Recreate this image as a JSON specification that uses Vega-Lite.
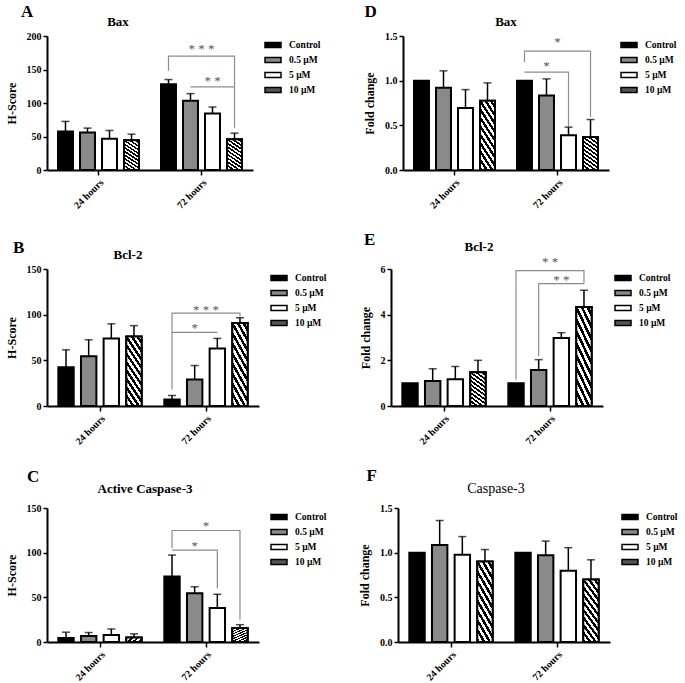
{
  "$schema": "https://vega.github.io/schema/vega-lite/v6.json",
  "background": "white",
  "padding": {"left": 5, "top": 3, "right": 0, "bottom": 0},
  "config": {
    "font": "Liberation Serif",
    "view": {"stroke": null},
    "axis": {
      "grid": false,
      "labelFont": "Liberation Serif", "labelFontWeight": "bold", "labelFontSize": 10, "labelColor": "black",
      "titleFont": "Liberation Serif", "titleFontWeight": "bold", "titleFontSize": 12, "titleColor": "black",
      "domainColor": "black", "domainWidth": 2, "tickColor": "black", "tickWidth": 1.5, "tickSize": 4, "labelPadding": 2
    },
    "axisX": {"labelAngle": -45, "labelFontSize": 10, "tickSize": 5},
    "axisY": {"titlePadding": 8},
    "legend": {
      "title": null, "orient": "right", "offset": 11, "padding": 0,
      "labelFont": "Liberation Serif", "labelFontWeight": "bold", "labelFontSize": 9.5, "labelColor": "black",
      "symbolType": "M-1,-0.32H1V0.32H-1Z", "symbolSize": 256, "symbolStrokeColor": "black", "symbolStrokeWidth": 1.5,
      "rowPadding": -1, "labelOffset": 7
    },
    "title": {"font": "Liberation Serif", "fontWeight": "bold", "fontSize": 13, "color": "black", "anchor": "middle", "frame": "group", "offset": 2}
  },
  "datasets": {
    "bars": [
      {"panel": "A", "time": "24 hours", "treatment": "Control", "mean": 57.5, "upper": 72.5},
      {"panel": "A", "time": "24 hours", "treatment": "0.5 µM", "mean": 56, "upper": 62.5},
      {"panel": "A", "time": "24 hours", "treatment": "5 µM", "mean": 46.5, "upper": 59},
      {"panel": "A", "time": "24 hours", "treatment": "10 µM", "mean": 44.5, "upper": 53.5},
      {"panel": "A", "time": "72 hours", "treatment": "Control", "mean": 128, "upper": 135},
      {"panel": "A", "time": "72 hours", "treatment": "0.5 µM", "mean": 103.5, "upper": 114},
      {"panel": "A", "time": "72 hours", "treatment": "5 µM", "mean": 84.5, "upper": 94},
      {"panel": "A", "time": "72 hours", "treatment": "10 µM", "mean": 46, "upper": 55},
      {"panel": "D", "time": "24 hours", "treatment": "Control", "mean": 1.0, "upper": null},
      {"panel": "D", "time": "24 hours", "treatment": "0.5 µM", "mean": 0.92, "upper": 1.11},
      {"panel": "D", "time": "24 hours", "treatment": "5 µM", "mean": 0.695, "upper": 0.9},
      {"panel": "D", "time": "24 hours", "treatment": "10 µM", "mean": 0.775, "upper": 0.975},
      {"panel": "D", "time": "72 hours", "treatment": "Control", "mean": 1.0, "upper": null},
      {"panel": "D", "time": "72 hours", "treatment": "0.5 µM", "mean": 0.835, "upper": 1.02},
      {"panel": "D", "time": "72 hours", "treatment": "5 µM", "mean": 0.39, "upper": 0.48},
      {"panel": "D", "time": "72 hours", "treatment": "10 µM", "mean": 0.37, "upper": 0.565},
      {"panel": "B", "time": "24 hours", "treatment": "Control", "mean": 42.5, "upper": 61.5},
      {"panel": "B", "time": "24 hours", "treatment": "0.5 µM", "mean": 54.5, "upper": 72.5},
      {"panel": "B", "time": "24 hours", "treatment": "5 µM", "mean": 74, "upper": 90},
      {"panel": "B", "time": "24 hours", "treatment": "10 µM", "mean": 76, "upper": 88},
      {"panel": "B", "time": "72 hours", "treatment": "Control", "mean": 7, "upper": 11.5},
      {"panel": "B", "time": "72 hours", "treatment": "0.5 µM", "mean": 29, "upper": 44.3},
      {"panel": "B", "time": "72 hours", "treatment": "5 µM", "mean": 63, "upper": 74},
      {"panel": "B", "time": "72 hours", "treatment": "10 µM", "mean": 90.8, "upper": 96.6},
      {"panel": "E", "time": "24 hours", "treatment": "Control", "mean": 1.0, "upper": null},
      {"panel": "E", "time": "24 hours", "treatment": "0.5 µM", "mean": 1.1, "upper": 1.63},
      {"panel": "E", "time": "24 hours", "treatment": "5 µM", "mean": 1.17, "upper": 1.73},
      {"panel": "E", "time": "24 hours", "treatment": "10 µM", "mean": 1.48, "upper": 2.0},
      {"panel": "E", "time": "72 hours", "treatment": "Control", "mean": 1.0, "upper": null},
      {"panel": "E", "time": "72 hours", "treatment": "0.5 µM", "mean": 1.58, "upper": 2.03},
      {"panel": "E", "time": "72 hours", "treatment": "5 µM", "mean": 2.98, "upper": 3.21},
      {"panel": "E", "time": "72 hours", "treatment": "10 µM", "mean": 4.34, "upper": 5.07},
      {"panel": "C", "time": "24 hours", "treatment": "Control", "mean": 4.4, "upper": 11},
      {"panel": "C", "time": "24 hours", "treatment": "0.5 µM", "mean": 6.6, "upper": 10.6},
      {"panel": "C", "time": "24 hours", "treatment": "5 µM", "mean": 7.7, "upper": 14.6},
      {"panel": "C", "time": "24 hours", "treatment": "10 µM", "mean": 5.1, "upper": 9.1},
      {"panel": "C", "time": "72 hours", "treatment": "Control", "mean": 73.2, "upper": 97.3},
      {"panel": "C", "time": "72 hours", "treatment": "0.5 µM", "mean": 54.5, "upper": 61.8},
      {"panel": "C", "time": "72 hours", "treatment": "5 µM", "mean": 38, "upper": 53.4},
      {"panel": "C", "time": "72 hours", "treatment": "10 µM", "mean": 15.7, "upper": 19.4},
      {"panel": "F", "time": "24 hours", "treatment": "Control", "mean": 1.0, "upper": null},
      {"panel": "F", "time": "24 hours", "treatment": "0.5 µM", "mean": 1.085, "upper": 1.36},
      {"panel": "F", "time": "24 hours", "treatment": "5 µM", "mean": 0.976, "upper": 1.18},
      {"panel": "F", "time": "24 hours", "treatment": "10 µM", "mean": 0.9, "upper": 1.035},
      {"panel": "F", "time": "72 hours", "treatment": "Control", "mean": 1.0, "upper": null},
      {"panel": "F", "time": "72 hours", "treatment": "0.5 µM", "mean": 0.972, "upper": 1.13},
      {"panel": "F", "time": "72 hours", "treatment": "5 µM", "mean": 0.797, "upper": 1.056},
      {"panel": "F", "time": "72 hours", "treatment": "10 µM", "mean": 0.7, "upper": 0.92}
    ],
    "brackets": [
      {"panel": "A", "bracket": 1, "ord": 1, "time": "72 hours", "treatment": "Control", "value": 148},
      {"panel": "A", "bracket": 1, "ord": 2, "time": "72 hours", "treatment": "Control", "value": 170},
      {"panel": "A", "bracket": 1, "ord": 3, "time": "72 hours", "treatment": "10 µM", "value": 170},
      {"panel": "A", "bracket": 1, "ord": 4, "time": "72 hours", "treatment": "10 µM", "value": 63},
      {"panel": "A", "bracket": 2, "ord": 1, "time": "72 hours", "treatment": "0.5 µM", "value": 124},
      {"panel": "A", "bracket": 2, "ord": 2, "time": "72 hours", "treatment": "10 µM", "value": 124},
      {"panel": "D", "bracket": 1, "ord": 1, "time": "72 hours", "treatment": "Control", "value": 1.205},
      {"panel": "D", "bracket": 1, "ord": 2, "time": "72 hours", "treatment": "Control", "value": 1.33},
      {"panel": "D", "bracket": 1, "ord": 3, "time": "72 hours", "treatment": "10 µM", "value": 1.33},
      {"panel": "D", "bracket": 1, "ord": 4, "time": "72 hours", "treatment": "10 µM", "value": 0.593},
      {"panel": "D", "bracket": 2, "ord": 1, "time": "72 hours", "treatment": "Control", "value": 1.096},
      {"panel": "D", "bracket": 2, "ord": 2, "time": "72 hours", "treatment": "5 µM", "value": 1.096},
      {"panel": "D", "bracket": 2, "ord": 3, "time": "72 hours", "treatment": "5 µM", "value": 0.487},
      {"panel": "B", "bracket": 1, "ord": 1, "time": "72 hours", "treatment": "Control", "value": 18},
      {"panel": "B", "bracket": 1, "ord": 2, "time": "72 hours", "treatment": "Control", "value": 101.7},
      {"panel": "B", "bracket": 1, "ord": 3, "time": "72 hours", "treatment": "10 µM", "value": 101.7},
      {"panel": "B", "bracket": 1, "ord": 4, "time": "72 hours", "treatment": "10 µM", "value": 98},
      {"panel": "B", "bracket": 2, "ord": 1, "time": "72 hours", "treatment": "Control", "value": 80.6},
      {"panel": "B", "bracket": 2, "ord": 2, "time": "72 hours", "treatment": "5 µM", "value": 80.6},
      {"panel": "E", "bracket": 1, "ord": 1, "time": "72 hours", "treatment": "Control", "value": 1.15},
      {"panel": "E", "bracket": 1, "ord": 2, "time": "72 hours", "treatment": "Control", "value": 5.93},
      {"panel": "E", "bracket": 1, "ord": 3, "time": "72 hours", "treatment": "10 µM", "value": 5.93},
      {"panel": "E", "bracket": 1, "ord": 4, "time": "72 hours", "treatment": "10 µM", "value": 5.36},
      {"panel": "E", "bracket": 2, "ord": 1, "time": "72 hours", "treatment": "0.5 µM", "value": 2.18},
      {"panel": "E", "bracket": 2, "ord": 2, "time": "72 hours", "treatment": "0.5 µM", "value": 5.36},
      {"panel": "E", "bracket": 2, "ord": 3, "time": "72 hours", "treatment": "10 µM", "value": 5.36},
      {"panel": "C", "bracket": 1, "ord": 1, "time": "72 hours", "treatment": "Control", "value": 105},
      {"panel": "C", "bracket": 1, "ord": 2, "time": "72 hours", "treatment": "Control", "value": 124.8},
      {"panel": "C", "bracket": 1, "ord": 3, "time": "72 hours", "treatment": "10 µM", "value": 124.8},
      {"panel": "C", "bracket": 1, "ord": 4, "time": "72 hours", "treatment": "10 µM", "value": 25},
      {"panel": "C", "bracket": 2, "ord": 1, "time": "72 hours", "treatment": "Control", "value": 102.9},
      {"panel": "C", "bracket": 2, "ord": 2, "time": "72 hours", "treatment": "5 µM", "value": 102.9},
      {"panel": "C", "bracket": 2, "ord": 3, "time": "72 hours", "treatment": "5 µM", "value": 60}
    ],
    "stars": [
      {"panel": "A", "time": "72 hours", "at": "center", "label": "* * *", "value": 180},
      {"panel": "A", "time": "72 hours", "at": "5 µM", "label": "* *", "value": 133},
      {"panel": "D", "time": "72 hours", "at": "center", "label": "*", "value": 1.43},
      {"panel": "D", "time": "72 hours", "at": "0.5 µM", "label": "*", "value": 1.16},
      {"panel": "B", "time": "72 hours", "at": "center", "label": "* * *", "value": 105},
      {"panel": "B", "time": "72 hours", "at": "0.5 µM", "label": "*", "value": 85.5},
      {"panel": "E", "time": "72 hours", "at": "center", "label": "* *", "value": 6.3},
      {"panel": "E", "time": "72 hours", "at": "5 µM", "label": "* *", "value": 5.5},
      {"panel": "C", "time": "72 hours", "at": "center", "label": "*", "value": 130},
      {"panel": "C", "time": "72 hours", "at": "0.5 µM", "label": "*", "value": 108}
    ]
  },
  "vconcat": [
    {
      "hconcat": [
        {
          "title": {"text": "A", "fontSize": 17, "anchor": "start", "frame": "bounds", "dx": 16, "offset": -5},
          "resolve": {"scale": {"fill": "independent", "xOffset": "independent"}, "legend": {"fill": "independent"}},
          "vconcat": [
            {
              "title": {"text": "Bax", "dx": -32},
              "width": 206, "height": 134,
              "layer": [
                {"data": {"name": "bars"}, "transform": [{"filter": "datum.panel === 'A'"}],
                 "mark": {"type": "bar", "stroke": "black", "strokeWidth": 2},
                 "encoding": {
                   "x": {"field": "time", "type": "nominal", "title": null, "scale": {"domain": ["24 hours", "72 hours"], "paddingInner": 0, "paddingOuter": 0}},
                   "xOffset": {"field": "treatment", "type": "nominal", "scale": {"domain": ["Control", "0.5 µM", "5 µM", "10 µM"], "paddingInner": 0.32, "paddingOuter": 0.5}},
                   "y": {"field": "mean", "type": "quantitative", "title": "H-Score", "scale": {"domain": [0, 200], "nice": false}, "axis": {"values": [0, 50, 100, 150, 200]}},
                   "fill": {"field": "treatment", "type": "nominal", "scale": {"domain": ["Control", "0.5 µM", "5 µM", "10 µM"], "range": ["black", "#8a8a8a", "white", "#555555"]},
                     "legend": {"encode": {"symbols": {"update": {"stroke": {"value": "black"}, "strokeWidth": {"value": 1.5}, "fill": [
                       {"test": "datum.value === '10 µM'", "value": {"gradient": "linear", "x1": 0, "y1": 0, "x2": 1, "y2": 0, "stops": [{"offset": 0, "color": "black"}, {"offset": 0.14, "color": "black"}, {"offset": 0.14, "color": "white"}, {"offset": 0.28, "color": "white"}, {"offset": 0.28, "color": "black"}, {"offset": 0.42, "color": "black"}, {"offset": 0.42, "color": "white"}, {"offset": 0.58, "color": "white"}, {"offset": 0.58, "color": "black"}, {"offset": 0.72, "color": "black"}, {"offset": 0.72, "color": "white"}, {"offset": 0.86, "color": "white"}, {"offset": 0.86, "color": "black"}, {"offset": 1, "color": "black"}]}},
                       {"test": "datum.value === 'Control'", "value": "black"},
                       {"test": "datum.value === '0.5 µM'", "value": "#8a8a8a"},
                       {"value": "white"}]}}}}}
                 }},
                {"data": {"name": "bars"}, "transform": [{"filter": "datum.panel === 'A' && datum.treatment === '10 µM'"}],
                 "mark": {"type": "bar", "stroke": "black", "strokeWidth": 2, "fill": {"gradient": "linear", "x1": 0, "y1": 1, "x2": 0.4, "y2": -0.2, "stops": [{"offset": 0, "color": "black"}, {"offset": 0.0455, "color": "black"}, {"offset": 0.0455, "color": "white"}, {"offset": 0.0909, "color": "white"}, {"offset": 0.0909, "color": "black"}, {"offset": 0.1364, "color": "black"}, {"offset": 0.1364, "color": "white"}, {"offset": 0.1818, "color": "white"}, {"offset": 0.1818, "color": "black"}, {"offset": 0.2273, "color": "black"}, {"offset": 0.2273, "color": "white"}, {"offset": 0.2727, "color": "white"}, {"offset": 0.2727, "color": "black"}, {"offset": 0.3182, "color": "black"}, {"offset": 0.3182, "color": "white"}, {"offset": 0.3636, "color": "white"}, {"offset": 0.3636, "color": "black"}, {"offset": 0.4091, "color": "black"}, {"offset": 0.4091, "color": "white"}, {"offset": 0.4545, "color": "white"}, {"offset": 0.4545, "color": "black"}, {"offset": 0.5, "color": "black"}, {"offset": 0.5, "color": "white"}, {"offset": 0.5455, "color": "white"}, {"offset": 0.5455, "color": "black"}, {"offset": 0.5909, "color": "black"}, {"offset": 0.5909, "color": "white"}, {"offset": 0.6364, "color": "white"}, {"offset": 0.6364, "color": "black"}, {"offset": 0.6818, "color": "black"}, {"offset": 0.6818, "color": "white"}, {"offset": 0.7273, "color": "white"}, {"offset": 0.7273, "color": "black"}, {"offset": 0.7727, "color": "black"}, {"offset": 0.7727, "color": "white"}, {"offset": 0.8182, "color": "white"}, {"offset": 0.8182, "color": "black"}, {"offset": 0.8636, "color": "black"}, {"offset": 0.8636, "color": "white"}, {"offset": 0.9091, "color": "white"}, {"offset": 0.9091, "color": "black"}, {"offset": 0.9545, "color": "black"}, {"offset": 0.9545, "color": "white"}, {"offset": 1, "color": "white"}]}},
                 "encoding": {
                   "x": {"field": "time", "type": "nominal", "title": null},
                   "xOffset": {"field": "treatment", "type": "nominal"},
                   "y": {"field": "mean", "type": "quantitative", "title": "H-Score", "axis": {"values": [0, 50, 100, 150, 200]}}
                 }},
                {"data": {"name": "bars"}, "transform": [{"filter": "datum.panel === 'A' && datum.upper != null"}],
                 "mark": {"type": "rule", "color": "black", "strokeWidth": 1.5},
                 "encoding": {
                   "x": {"field": "time", "type": "nominal", "title": null},
                   "xOffset": {"field": "treatment", "type": "nominal"},
                   "y": {"field": "mean", "type": "quantitative", "title": "H-Score", "axis": {"values": [0, 50, 100, 150, 200]}},
                   "y2": {"field": "upper"}
                 }},
                {"data": {"name": "bars"}, "transform": [{"filter": "datum.panel === 'A' && datum.upper != null"}],
                 "mark": {"type": "tick", "color": "black", "thickness": 1.5, "size": 8},
                 "encoding": {
                   "x": {"field": "time", "type": "nominal", "title": null},
                   "xOffset": {"field": "treatment", "type": "nominal"},
                   "y": {"field": "upper", "type": "quantitative", "title": "H-Score", "axis": {"values": [0, 50, 100, 150, 200]}}
                 }},
                {"data": {"name": "brackets"}, "transform": [{"filter": "datum.panel === 'A'"}],
                 "mark": {"type": "line", "color": "#8c8c8c", "strokeWidth": 1.2},
                 "encoding": {
                   "x": {"field": "time", "type": "nominal", "title": null},
                   "xOffset": {"field": "treatment", "type": "nominal"},
                   "y": {"field": "value", "type": "quantitative", "title": "H-Score", "axis": {"values": [0, 50, 100, 150, 200]}},
                   "detail": {"field": "bracket"},
                   "order": {"field": "ord"}
                 }},
                {"data": {"name": "stars"}, "transform": [{"filter": "datum.panel === 'A' && datum.at !== 'center'"}],
                 "mark": {"type": "text", "fill": "#555", "fontSize": 13, "baseline": "middle"},
                 "encoding": {
                   "x": {"field": "time", "type": "nominal", "title": null},
                   "xOffset": {"field": "at", "type": "nominal"},
                   "y": {"field": "value", "type": "quantitative", "title": "H-Score", "axis": {"values": [0, 50, 100, 150, 200]}},
                   "text": {"field": "label"}
                 }},
                {"data": {"name": "stars"}, "transform": [{"filter": "datum.panel === 'A' && datum.at === 'center'"}],
                 "mark": {"type": "text", "fill": "#555", "fontSize": 13, "baseline": "middle"},
                 "encoding": {
                   "x": {"field": "time", "type": "nominal", "title": null},
                   "y": {"field": "value", "type": "quantitative", "title": "H-Score", "axis": {"values": [0, 50, 100, 150, 200]}},
                   "text": {"field": "label"}
                 }}
              ]
            }
          ]
        },
        {
          "title": {"text": "D", "fontSize": 17, "anchor": "start", "frame": "bounds", "dx": 1, "offset": -5},
          "resolve": {"scale": {"fill": "independent", "xOffset": "independent"}, "legend": {"fill": "independent"}},
          "vconcat": [
            {
              "title": {"text": "Bax", "dx": 0},
              "width": 206, "height": 134,
              "layer": [
                {"data": {"name": "bars"}, "transform": [{"filter": "datum.panel === 'D'"}],
                 "mark": {"type": "bar", "stroke": "black", "strokeWidth": 2},
                 "encoding": {
                   "x": {"field": "time", "type": "nominal", "title": null, "scale": {"domain": ["24 hours", "72 hours"], "paddingInner": 0, "paddingOuter": 0}},
                   "xOffset": {"field": "treatment", "type": "nominal", "scale": {"domain": ["Control", "0.5 µM", "5 µM", "10 µM"], "paddingInner": 0.32, "paddingOuter": 0.5}},
                   "y": {"field": "mean", "type": "quantitative", "title": "Fold change", "scale": {"domain": [0, 1.5], "nice": false}, "axis": {"values": [0, 0.5, 1, 1.5], "format": ".1f"}},
                   "fill": {"field": "treatment", "type": "nominal", "scale": {"domain": ["Control", "0.5 µM", "5 µM", "10 µM"], "range": ["black", "#8a8a8a", "white", "#555555"]},
                     "legend": {"encode": {"symbols": {"update": {"stroke": {"value": "black"}, "strokeWidth": {"value": 1.5}, "fill": [
                       {"test": "datum.value === '10 µM'", "value": {"gradient": "linear", "x1": 0, "y1": 0, "x2": 1, "y2": 0, "stops": [{"offset": 0, "color": "black"}, {"offset": 0.14, "color": "black"}, {"offset": 0.14, "color": "white"}, {"offset": 0.28, "color": "white"}, {"offset": 0.28, "color": "black"}, {"offset": 0.42, "color": "black"}, {"offset": 0.42, "color": "white"}, {"offset": 0.58, "color": "white"}, {"offset": 0.58, "color": "black"}, {"offset": 0.72, "color": "black"}, {"offset": 0.72, "color": "white"}, {"offset": 0.86, "color": "white"}, {"offset": 0.86, "color": "black"}, {"offset": 1, "color": "black"}]}},
                       {"test": "datum.value === 'Control'", "value": "black"},
                       {"test": "datum.value === '0.5 µM'", "value": "#8a8a8a"},
                       {"value": "white"}]}}}}}
                 }},
                {"data": {"name": "bars"}, "transform": [{"filter": "datum.panel === 'D' && datum.treatment === '10 µM'"}],
                 "mark": {"type": "bar", "stroke": "black", "strokeWidth": 2, "fill": {"gradient": "linear", "x1": 0, "y1": 1, "x2": 0.4, "y2": -0.2, "stops": [{"offset": 0, "color": "black"}, {"offset": 0.0455, "color": "black"}, {"offset": 0.0455, "color": "white"}, {"offset": 0.0909, "color": "white"}, {"offset": 0.0909, "color": "black"}, {"offset": 0.1364, "color": "black"}, {"offset": 0.1364, "color": "white"}, {"offset": 0.1818, "color": "white"}, {"offset": 0.1818, "color": "black"}, {"offset": 0.2273, "color": "black"}, {"offset": 0.2273, "color": "white"}, {"offset": 0.2727, "color": "white"}, {"offset": 0.2727, "color": "black"}, {"offset": 0.3182, "color": "black"}, {"offset": 0.3182, "color": "white"}, {"offset": 0.3636, "color": "white"}, {"offset": 0.3636, "color": "black"}, {"offset": 0.4091, "color": "black"}, {"offset": 0.4091, "color": "white"}, {"offset": 0.4545, "color": "white"}, {"offset": 0.4545, "color": "black"}, {"offset": 0.5, "color": "black"}, {"offset": 0.5, "color": "white"}, {"offset": 0.5455, "color": "white"}, {"offset": 0.5455, "color": "black"}, {"offset": 0.5909, "color": "black"}, {"offset": 0.5909, "color": "white"}, {"offset": 0.6364, "color": "white"}, {"offset": 0.6364, "color": "black"}, {"offset": 0.6818, "color": "black"}, {"offset": 0.6818, "color": "white"}, {"offset": 0.7273, "color": "white"}, {"offset": 0.7273, "color": "black"}, {"offset": 0.7727, "color": "black"}, {"offset": 0.7727, "color": "white"}, {"offset": 0.8182, "color": "white"}, {"offset": 0.8182, "color": "black"}, {"offset": 0.8636, "color": "black"}, {"offset": 0.8636, "color": "white"}, {"offset": 0.9091, "color": "white"}, {"offset": 0.9091, "color": "black"}, {"offset": 0.9545, "color": "black"}, {"offset": 0.9545, "color": "white"}, {"offset": 1, "color": "white"}]}},
                 "encoding": {
                   "x": {"field": "time", "type": "nominal", "title": null},
                   "xOffset": {"field": "treatment", "type": "nominal"},
                   "y": {"field": "mean", "type": "quantitative", "title": "Fold change", "axis": {"values": [0, 0.5, 1, 1.5], "format": ".1f"}}
                 }},
                {"data": {"name": "bars"}, "transform": [{"filter": "datum.panel === 'D' && datum.upper != null"}],
                 "mark": {"type": "rule", "color": "black", "strokeWidth": 1.5},
                 "encoding": {
                   "x": {"field": "time", "type": "nominal", "title": null},
                   "xOffset": {"field": "treatment", "type": "nominal"},
                   "y": {"field": "mean", "type": "quantitative", "title": "Fold change", "axis": {"values": [0, 0.5, 1, 1.5], "format": ".1f"}},
                   "y2": {"field": "upper"}
                 }},
                {"data": {"name": "bars"}, "transform": [{"filter": "datum.panel === 'D' && datum.upper != null"}],
                 "mark": {"type": "tick", "color": "black", "thickness": 1.5, "size": 8},
                 "encoding": {
                   "x": {"field": "time", "type": "nominal", "title": null},
                   "xOffset": {"field": "treatment", "type": "nominal"},
                   "y": {"field": "upper", "type": "quantitative", "title": "Fold change", "axis": {"values": [0, 0.5, 1, 1.5], "format": ".1f"}}
                 }},
                {"data": {"name": "brackets"}, "transform": [{"filter": "datum.panel === 'D'"}],
                 "mark": {"type": "line", "color": "#8c8c8c", "strokeWidth": 1.2},
                 "encoding": {
                   "x": {"field": "time", "type": "nominal", "title": null},
                   "xOffset": {"field": "treatment", "type": "nominal"},
                   "y": {"field": "value", "type": "quantitative", "title": "Fold change", "axis": {"values": [0, 0.5, 1, 1.5], "format": ".1f"}},
                   "detail": {"field": "bracket"},
                   "order": {"field": "ord"}
                 }},
                {"data": {"name": "stars"}, "transform": [{"filter": "datum.panel === 'D' && datum.at !== 'center'"}],
                 "mark": {"type": "text", "fill": "#555", "fontSize": 13, "baseline": "middle"},
                 "encoding": {
                   "x": {"field": "time", "type": "nominal", "title": null},
                   "xOffset": {"field": "at", "type": "nominal"},
                   "y": {"field": "value", "type": "quantitative", "title": "Fold change", "axis": {"values": [0, 0.5, 1, 1.5], "format": ".1f"}},
                   "text": {"field": "label"}
                 }},
                {"data": {"name": "stars"}, "transform": [{"filter": "datum.panel === 'D' && datum.at === 'center'"}],
                 "mark": {"type": "text", "fill": "#555", "fontSize": 13, "baseline": "middle"},
                 "encoding": {
                   "x": {"field": "time", "type": "nominal", "title": null},
                   "y": {"field": "value", "type": "quantitative", "title": "Fold change", "axis": {"values": [0, 0.5, 1, 1.5], "format": ".1f"}},
                   "text": {"field": "label"}
                 }}
              ]
            }
          ]
        }
      ],
      "spacing": 42,
      "resolve": {"scale": {"fill": "independent", "xOffset": "independent"}, "legend": {"fill": "independent"}}
    },
    {
      "hconcat": [
        {
          "title": {"text": "B", "fontSize": 17, "anchor": "start", "frame": "bounds", "dx": 8, "offset": -8},
          "resolve": {"scale": {"fill": "independent", "xOffset": "independent"}, "legend": {"fill": "independent"}},
          "vconcat": [
            {
              "title": {"text": "Bcl-2", "dx": -25},
              "width": 212, "height": 137,
              "layer": [
                {"data": {"name": "bars"}, "transform": [{"filter": "datum.panel === 'B'"}],
                 "mark": {"type": "bar", "stroke": "black", "strokeWidth": 2},
                 "encoding": {
                   "x": {"field": "time", "type": "nominal", "title": null, "scale": {"domain": ["24 hours", "72 hours"], "paddingInner": 0, "paddingOuter": 0}},
                   "xOffset": {"field": "treatment", "type": "nominal", "scale": {"domain": ["Control", "0.5 µM", "5 µM", "10 µM"], "paddingInner": 0.32, "paddingOuter": 0.5}},
                   "y": {"field": "mean", "type": "quantitative", "title": "H-Score", "scale": {"domain": [0, 150], "nice": false}, "axis": {"values": [0, 50, 100, 150]}},
                   "fill": {"field": "treatment", "type": "nominal", "scale": {"domain": ["Control", "0.5 µM", "5 µM", "10 µM"], "range": ["black", "#8a8a8a", "white", "#555555"]},
                     "legend": {"encode": {"symbols": {"update": {"stroke": {"value": "black"}, "strokeWidth": {"value": 1.5}, "fill": [
                       {"test": "datum.value === '10 µM'", "value": {"gradient": "linear", "x1": 0, "y1": 0, "x2": 1, "y2": 0, "stops": [{"offset": 0, "color": "black"}, {"offset": 0.14, "color": "black"}, {"offset": 0.14, "color": "white"}, {"offset": 0.28, "color": "white"}, {"offset": 0.28, "color": "black"}, {"offset": 0.42, "color": "black"}, {"offset": 0.42, "color": "white"}, {"offset": 0.58, "color": "white"}, {"offset": 0.58, "color": "black"}, {"offset": 0.72, "color": "black"}, {"offset": 0.72, "color": "white"}, {"offset": 0.86, "color": "white"}, {"offset": 0.86, "color": "black"}, {"offset": 1, "color": "black"}]}},
                       {"test": "datum.value === 'Control'", "value": "black"},
                       {"test": "datum.value === '0.5 µM'", "value": "#8a8a8a"},
                       {"value": "white"}]}}}}}
                 }},
                {"data": {"name": "bars"}, "transform": [{"filter": "datum.panel === 'B' && datum.treatment === '10 µM'"}],
                 "mark": {"type": "bar", "stroke": "black", "strokeWidth": 2, "fill": {"gradient": "linear", "x1": 0, "y1": 1, "x2": 0.4, "y2": -0.2, "stops": [{"offset": 0, "color": "black"}, {"offset": 0.0455, "color": "black"}, {"offset": 0.0455, "color": "white"}, {"offset": 0.0909, "color": "white"}, {"offset": 0.0909, "color": "black"}, {"offset": 0.1364, "color": "black"}, {"offset": 0.1364, "color": "white"}, {"offset": 0.1818, "color": "white"}, {"offset": 0.1818, "color": "black"}, {"offset": 0.2273, "color": "black"}, {"offset": 0.2273, "color": "white"}, {"offset": 0.2727, "color": "white"}, {"offset": 0.2727, "color": "black"}, {"offset": 0.3182, "color": "black"}, {"offset": 0.3182, "color": "white"}, {"offset": 0.3636, "color": "white"}, {"offset": 0.3636, "color": "black"}, {"offset": 0.4091, "color": "black"}, {"offset": 0.4091, "color": "white"}, {"offset": 0.4545, "color": "white"}, {"offset": 0.4545, "color": "black"}, {"offset": 0.5, "color": "black"}, {"offset": 0.5, "color": "white"}, {"offset": 0.5455, "color": "white"}, {"offset": 0.5455, "color": "black"}, {"offset": 0.5909, "color": "black"}, {"offset": 0.5909, "color": "white"}, {"offset": 0.6364, "color": "white"}, {"offset": 0.6364, "color": "black"}, {"offset": 0.6818, "color": "black"}, {"offset": 0.6818, "color": "white"}, {"offset": 0.7273, "color": "white"}, {"offset": 0.7273, "color": "black"}, {"offset": 0.7727, "color": "black"}, {"offset": 0.7727, "color": "white"}, {"offset": 0.8182, "color": "white"}, {"offset": 0.8182, "color": "black"}, {"offset": 0.8636, "color": "black"}, {"offset": 0.8636, "color": "white"}, {"offset": 0.9091, "color": "white"}, {"offset": 0.9091, "color": "black"}, {"offset": 0.9545, "color": "black"}, {"offset": 0.9545, "color": "white"}, {"offset": 1, "color": "white"}]}},
                 "encoding": {
                   "x": {"field": "time", "type": "nominal", "title": null},
                   "xOffset": {"field": "treatment", "type": "nominal"},
                   "y": {"field": "mean", "type": "quantitative", "title": "H-Score", "axis": {"values": [0, 50, 100, 150]}}
                 }},
                {"data": {"name": "bars"}, "transform": [{"filter": "datum.panel === 'B' && datum.upper != null"}],
                 "mark": {"type": "rule", "color": "black", "strokeWidth": 1.5},
                 "encoding": {
                   "x": {"field": "time", "type": "nominal", "title": null},
                   "xOffset": {"field": "treatment", "type": "nominal"},
                   "y": {"field": "mean", "type": "quantitative", "title": "H-Score", "axis": {"values": [0, 50, 100, 150]}},
                   "y2": {"field": "upper"}
                 }},
                {"data": {"name": "bars"}, "transform": [{"filter": "datum.panel === 'B' && datum.upper != null"}],
                 "mark": {"type": "tick", "color": "black", "thickness": 1.5, "size": 8},
                 "encoding": {
                   "x": {"field": "time", "type": "nominal", "title": null},
                   "xOffset": {"field": "treatment", "type": "nominal"},
                   "y": {"field": "upper", "type": "quantitative", "title": "H-Score", "axis": {"values": [0, 50, 100, 150]}}
                 }},
                {"data": {"name": "brackets"}, "transform": [{"filter": "datum.panel === 'B'"}],
                 "mark": {"type": "line", "color": "#8c8c8c", "strokeWidth": 1.2},
                 "encoding": {
                   "x": {"field": "time", "type": "nominal", "title": null},
                   "xOffset": {"field": "treatment", "type": "nominal"},
                   "y": {"field": "value", "type": "quantitative", "title": "H-Score", "axis": {"values": [0, 50, 100, 150]}},
                   "detail": {"field": "bracket"},
                   "order": {"field": "ord"}
                 }},
                {"data": {"name": "stars"}, "transform": [{"filter": "datum.panel === 'B' && datum.at !== 'center'"}],
                 "mark": {"type": "text", "fill": "#555", "fontSize": 13, "baseline": "middle"},
                 "encoding": {
                   "x": {"field": "time", "type": "nominal", "title": null},
                   "xOffset": {"field": "at", "type": "nominal"},
                   "y": {"field": "value", "type": "quantitative", "title": "H-Score", "axis": {"values": [0, 50, 100, 150]}},
                   "text": {"field": "label"}
                 }},
                {"data": {"name": "stars"}, "transform": [{"filter": "datum.panel === 'B' && datum.at === 'center'"}],
                 "mark": {"type": "text", "fill": "#555", "fontSize": 13, "baseline": "middle"},
                 "encoding": {
                   "x": {"field": "time", "type": "nominal", "title": null},
                   "y": {"field": "value", "type": "quantitative", "title": "H-Score", "axis": {"values": [0, 50, 100, 150]}},
                   "text": {"field": "label"}
                 }}
              ]
            }
          ]
        },
        {
          "title": {"text": "E", "fontSize": 17, "anchor": "start", "frame": "bounds", "dx": 5, "offset": -8},
          "resolve": {"scale": {"fill": "independent", "xOffset": "independent"}, "legend": {"fill": "independent"}},
          "vconcat": [
            {
              "title": {"text": "Bcl-2", "dx": -18},
              "width": 212, "height": 137,
              "layer": [
                {"data": {"name": "bars"}, "transform": [{"filter": "datum.panel === 'E'"}],
                 "mark": {"type": "bar", "stroke": "black", "strokeWidth": 2},
                 "encoding": {
                   "x": {"field": "time", "type": "nominal", "title": null, "scale": {"domain": ["24 hours", "72 hours"], "paddingInner": 0, "paddingOuter": 0}},
                   "xOffset": {"field": "treatment", "type": "nominal", "scale": {"domain": ["Control", "0.5 µM", "5 µM", "10 µM"], "paddingInner": 0.32, "paddingOuter": 0.5}},
                   "y": {"field": "mean", "type": "quantitative", "title": "Fold change", "scale": {"domain": [0, 6], "nice": false}, "axis": {"values": [0, 2, 4, 6]}},
                   "fill": {"field": "treatment", "type": "nominal", "scale": {"domain": ["Control", "0.5 µM", "5 µM", "10 µM"], "range": ["black", "#8a8a8a", "white", "#555555"]},
                     "legend": {"encode": {"symbols": {"update": {"stroke": {"value": "black"}, "strokeWidth": {"value": 1.5}, "fill": [
                       {"test": "datum.value === '10 µM'", "value": {"gradient": "linear", "x1": 0, "y1": 0, "x2": 1, "y2": 0, "stops": [{"offset": 0, "color": "black"}, {"offset": 0.14, "color": "black"}, {"offset": 0.14, "color": "white"}, {"offset": 0.28, "color": "white"}, {"offset": 0.28, "color": "black"}, {"offset": 0.42, "color": "black"}, {"offset": 0.42, "color": "white"}, {"offset": 0.58, "color": "white"}, {"offset": 0.58, "color": "black"}, {"offset": 0.72, "color": "black"}, {"offset": 0.72, "color": "white"}, {"offset": 0.86, "color": "white"}, {"offset": 0.86, "color": "black"}, {"offset": 1, "color": "black"}]}},
                       {"test": "datum.value === 'Control'", "value": "black"},
                       {"test": "datum.value === '0.5 µM'", "value": "#8a8a8a"},
                       {"value": "white"}]}}}}}
                 }},
                {"data": {"name": "bars"}, "transform": [{"filter": "datum.panel === 'E' && datum.treatment === '10 µM'"}],
                 "mark": {"type": "bar", "stroke": "black", "strokeWidth": 2, "fill": {"gradient": "linear", "x1": 0, "y1": 1, "x2": 0.4, "y2": -0.2, "stops": [{"offset": 0, "color": "black"}, {"offset": 0.0455, "color": "black"}, {"offset": 0.0455, "color": "white"}, {"offset": 0.0909, "color": "white"}, {"offset": 0.0909, "color": "black"}, {"offset": 0.1364, "color": "black"}, {"offset": 0.1364, "color": "white"}, {"offset": 0.1818, "color": "white"}, {"offset": 0.1818, "color": "black"}, {"offset": 0.2273, "color": "black"}, {"offset": 0.2273, "color": "white"}, {"offset": 0.2727, "color": "white"}, {"offset": 0.2727, "color": "black"}, {"offset": 0.3182, "color": "black"}, {"offset": 0.3182, "color": "white"}, {"offset": 0.3636, "color": "white"}, {"offset": 0.3636, "color": "black"}, {"offset": 0.4091, "color": "black"}, {"offset": 0.4091, "color": "white"}, {"offset": 0.4545, "color": "white"}, {"offset": 0.4545, "color": "black"}, {"offset": 0.5, "color": "black"}, {"offset": 0.5, "color": "white"}, {"offset": 0.5455, "color": "white"}, {"offset": 0.5455, "color": "black"}, {"offset": 0.5909, "color": "black"}, {"offset": 0.5909, "color": "white"}, {"offset": 0.6364, "color": "white"}, {"offset": 0.6364, "color": "black"}, {"offset": 0.6818, "color": "black"}, {"offset": 0.6818, "color": "white"}, {"offset": 0.7273, "color": "white"}, {"offset": 0.7273, "color": "black"}, {"offset": 0.7727, "color": "black"}, {"offset": 0.7727, "color": "white"}, {"offset": 0.8182, "color": "white"}, {"offset": 0.8182, "color": "black"}, {"offset": 0.8636, "color": "black"}, {"offset": 0.8636, "color": "white"}, {"offset": 0.9091, "color": "white"}, {"offset": 0.9091, "color": "black"}, {"offset": 0.9545, "color": "black"}, {"offset": 0.9545, "color": "white"}, {"offset": 1, "color": "white"}]}},
                 "encoding": {
                   "x": {"field": "time", "type": "nominal", "title": null},
                   "xOffset": {"field": "treatment", "type": "nominal"},
                   "y": {"field": "mean", "type": "quantitative", "title": "Fold change", "axis": {"values": [0, 2, 4, 6]}}
                 }},
                {"data": {"name": "bars"}, "transform": [{"filter": "datum.panel === 'E' && datum.upper != null"}],
                 "mark": {"type": "rule", "color": "black", "strokeWidth": 1.5},
                 "encoding": {
                   "x": {"field": "time", "type": "nominal", "title": null},
                   "xOffset": {"field": "treatment", "type": "nominal"},
                   "y": {"field": "mean", "type": "quantitative", "title": "Fold change", "axis": {"values": [0, 2, 4, 6]}},
                   "y2": {"field": "upper"}
                 }},
                {"data": {"name": "bars"}, "transform": [{"filter": "datum.panel === 'E' && datum.upper != null"}],
                 "mark": {"type": "tick", "color": "black", "thickness": 1.5, "size": 8},
                 "encoding": {
                   "x": {"field": "time", "type": "nominal", "title": null},
                   "xOffset": {"field": "treatment", "type": "nominal"},
                   "y": {"field": "upper", "type": "quantitative", "title": "Fold change", "axis": {"values": [0, 2, 4, 6]}}
                 }},
                {"data": {"name": "brackets"}, "transform": [{"filter": "datum.panel === 'E'"}],
                 "mark": {"type": "line", "color": "#8c8c8c", "strokeWidth": 1.2},
                 "encoding": {
                   "x": {"field": "time", "type": "nominal", "title": null},
                   "xOffset": {"field": "treatment", "type": "nominal"},
                   "y": {"field": "value", "type": "quantitative", "title": "Fold change", "axis": {"values": [0, 2, 4, 6]}},
                   "detail": {"field": "bracket"},
                   "order": {"field": "ord"}
                 }},
                {"data": {"name": "stars"}, "transform": [{"filter": "datum.panel === 'E' && datum.at !== 'center'"}],
                 "mark": {"type": "text", "fill": "#555", "fontSize": 13, "baseline": "middle"},
                 "encoding": {
                   "x": {"field": "time", "type": "nominal", "title": null},
                   "xOffset": {"field": "at", "type": "nominal"},
                   "y": {"field": "value", "type": "quantitative", "title": "Fold change", "axis": {"values": [0, 2, 4, 6]}},
                   "text": {"field": "label"}
                 }},
                {"data": {"name": "stars"}, "transform": [{"filter": "datum.panel === 'E' && datum.at === 'center'"}],
                 "mark": {"type": "text", "fill": "#555", "fontSize": 13, "baseline": "middle"},
                 "encoding": {
                   "x": {"field": "time", "type": "nominal", "title": null},
                   "y": {"field": "value", "type": "quantitative", "title": "Fold change", "axis": {"values": [0, 2, 4, 6]}},
                   "text": {"field": "label"}
                 }}
              ]
            }
          ]
        }
      ],
      "spacing": 32,
      "resolve": {"scale": {"fill": "independent", "xOffset": "independent"}, "legend": {"fill": "independent"}}
    },
    {
      "hconcat": [
        {
          "title": {"text": "C", "fontSize": 17, "anchor": "start", "frame": "bounds", "dx": 22, "offset": -3},
          "resolve": {"scale": {"fill": "independent", "xOffset": "independent"}, "legend": {"fill": "independent"}},
          "vconcat": [
            {
              "title": {"text": "Active Caspase-3", "dx": -8, "offset": 7},
              "width": 212, "height": 134,
              "layer": [
                {"data": {"name": "bars"}, "transform": [{"filter": "datum.panel === 'C'"}],
                 "mark": {"type": "bar", "stroke": "black", "strokeWidth": 2},
                 "encoding": {
                   "x": {"field": "time", "type": "nominal", "title": null, "scale": {"domain": ["24 hours", "72 hours"], "paddingInner": 0, "paddingOuter": 0}},
                   "xOffset": {"field": "treatment", "type": "nominal", "scale": {"domain": ["Control", "0.5 µM", "5 µM", "10 µM"], "paddingInner": 0.32, "paddingOuter": 0.5}},
                   "y": {"field": "mean", "type": "quantitative", "title": "H-Score", "scale": {"domain": [0, 150], "nice": false}, "axis": {"values": [0, 50, 100, 150]}},
                   "fill": {"field": "treatment", "type": "nominal", "scale": {"domain": ["Control", "0.5 µM", "5 µM", "10 µM"], "range": ["black", "#8a8a8a", "white", "#555555"]},
                     "legend": {"encode": {"symbols": {"update": {"stroke": {"value": "black"}, "strokeWidth": {"value": 1.5}, "fill": [
                       {"test": "datum.value === '10 µM'", "value": {"gradient": "linear", "x1": 0, "y1": 0, "x2": 1, "y2": 0, "stops": [{"offset": 0, "color": "black"}, {"offset": 0.14, "color": "black"}, {"offset": 0.14, "color": "white"}, {"offset": 0.28, "color": "white"}, {"offset": 0.28, "color": "black"}, {"offset": 0.42, "color": "black"}, {"offset": 0.42, "color": "white"}, {"offset": 0.58, "color": "white"}, {"offset": 0.58, "color": "black"}, {"offset": 0.72, "color": "black"}, {"offset": 0.72, "color": "white"}, {"offset": 0.86, "color": "white"}, {"offset": 0.86, "color": "black"}, {"offset": 1, "color": "black"}]}},
                       {"test": "datum.value === 'Control'", "value": "black"},
                       {"test": "datum.value === '0.5 µM'", "value": "#8a8a8a"},
                       {"value": "white"}]}}}}}
                 }},
                {"data": {"name": "bars"}, "transform": [{"filter": "datum.panel === 'C' && datum.treatment === '10 µM'"}],
                 "mark": {"type": "bar", "stroke": "black", "strokeWidth": 2, "fill": {"gradient": "linear", "x1": 0, "y1": 1, "x2": 0.4, "y2": -0.2, "stops": [{"offset": 0, "color": "black"}, {"offset": 0.0455, "color": "black"}, {"offset": 0.0455, "color": "white"}, {"offset": 0.0909, "color": "white"}, {"offset": 0.0909, "color": "black"}, {"offset": 0.1364, "color": "black"}, {"offset": 0.1364, "color": "white"}, {"offset": 0.1818, "color": "white"}, {"offset": 0.1818, "color": "black"}, {"offset": 0.2273, "color": "black"}, {"offset": 0.2273, "color": "white"}, {"offset": 0.2727, "color": "white"}, {"offset": 0.2727, "color": "black"}, {"offset": 0.3182, "color": "black"}, {"offset": 0.3182, "color": "white"}, {"offset": 0.3636, "color": "white"}, {"offset": 0.3636, "color": "black"}, {"offset": 0.4091, "color": "black"}, {"offset": 0.4091, "color": "white"}, {"offset": 0.4545, "color": "white"}, {"offset": 0.4545, "color": "black"}, {"offset": 0.5, "color": "black"}, {"offset": 0.5, "color": "white"}, {"offset": 0.5455, "color": "white"}, {"offset": 0.5455, "color": "black"}, {"offset": 0.5909, "color": "black"}, {"offset": 0.5909, "color": "white"}, {"offset": 0.6364, "color": "white"}, {"offset": 0.6364, "color": "black"}, {"offset": 0.6818, "color": "black"}, {"offset": 0.6818, "color": "white"}, {"offset": 0.7273, "color": "white"}, {"offset": 0.7273, "color": "black"}, {"offset": 0.7727, "color": "black"}, {"offset": 0.7727, "color": "white"}, {"offset": 0.8182, "color": "white"}, {"offset": 0.8182, "color": "black"}, {"offset": 0.8636, "color": "black"}, {"offset": 0.8636, "color": "white"}, {"offset": 0.9091, "color": "white"}, {"offset": 0.9091, "color": "black"}, {"offset": 0.9545, "color": "black"}, {"offset": 0.9545, "color": "white"}, {"offset": 1, "color": "white"}]}},
                 "encoding": {
                   "x": {"field": "time", "type": "nominal", "title": null},
                   "xOffset": {"field": "treatment", "type": "nominal"},
                   "y": {"field": "mean", "type": "quantitative", "title": "H-Score", "axis": {"values": [0, 50, 100, 150]}}
                 }},
                {"data": {"name": "bars"}, "transform": [{"filter": "datum.panel === 'C' && datum.upper != null"}],
                 "mark": {"type": "rule", "color": "black", "strokeWidth": 1.5},
                 "encoding": {
                   "x": {"field": "time", "type": "nominal", "title": null},
                   "xOffset": {"field": "treatment", "type": "nominal"},
                   "y": {"field": "mean", "type": "quantitative", "title": "H-Score", "axis": {"values": [0, 50, 100, 150]}},
                   "y2": {"field": "upper"}
                 }},
                {"data": {"name": "bars"}, "transform": [{"filter": "datum.panel === 'C' && datum.upper != null"}],
                 "mark": {"type": "tick", "color": "black", "thickness": 1.5, "size": 8},
                 "encoding": {
                   "x": {"field": "time", "type": "nominal", "title": null},
                   "xOffset": {"field": "treatment", "type": "nominal"},
                   "y": {"field": "upper", "type": "quantitative", "title": "H-Score", "axis": {"values": [0, 50, 100, 150]}}
                 }},
                {"data": {"name": "brackets"}, "transform": [{"filter": "datum.panel === 'C'"}],
                 "mark": {"type": "line", "color": "#8c8c8c", "strokeWidth": 1.2},
                 "encoding": {
                   "x": {"field": "time", "type": "nominal", "title": null},
                   "xOffset": {"field": "treatment", "type": "nominal"},
                   "y": {"field": "value", "type": "quantitative", "title": "H-Score", "axis": {"values": [0, 50, 100, 150]}},
                   "detail": {"field": "bracket"},
                   "order": {"field": "ord"}
                 }},
                {"data": {"name": "stars"}, "transform": [{"filter": "datum.panel === 'C' && datum.at !== 'center'"}],
                 "mark": {"type": "text", "fill": "#555", "fontSize": 13, "baseline": "middle"},
                 "encoding": {
                   "x": {"field": "time", "type": "nominal", "title": null},
                   "xOffset": {"field": "at", "type": "nominal"},
                   "y": {"field": "value", "type": "quantitative", "title": "H-Score", "axis": {"values": [0, 50, 100, 150]}},
                   "text": {"field": "label"}
                 }},
                {"data": {"name": "stars"}, "transform": [{"filter": "datum.panel === 'C' && datum.at === 'center'"}],
                 "mark": {"type": "text", "fill": "#555", "fontSize": 13, "baseline": "middle"},
                 "encoding": {
                   "x": {"field": "time", "type": "nominal", "title": null},
                   "y": {"field": "value", "type": "quantitative", "title": "H-Score", "axis": {"values": [0, 50, 100, 150]}},
                   "text": {"field": "label"}
                 }}
              ]
            }
          ]
        },
        {
          "title": {"text": "F", "fontSize": 17, "anchor": "start", "frame": "bounds", "dx": 8, "offset": -3},
          "resolve": {"scale": {"fill": "independent", "xOffset": "independent"}, "legend": {"fill": "independent"}},
          "vconcat": [
            {
              "title": {"text": "Caspase-3", "dx": -8, "offset": 7, "fontWeight": "normal", "fontSize": 14},
              "width": 212, "height": 134,
              "layer": [
                {"data": {"name": "bars"}, "transform": [{"filter": "datum.panel === 'F'"}],
                 "mark": {"type": "bar", "stroke": "black", "strokeWidth": 2},
                 "encoding": {
                   "x": {"field": "time", "type": "nominal", "title": null, "scale": {"domain": ["24 hours", "72 hours"], "paddingInner": 0, "paddingOuter": 0}},
                   "xOffset": {"field": "treatment", "type": "nominal", "scale": {"domain": ["Control", "0.5 µM", "5 µM", "10 µM"], "paddingInner": 0.32, "paddingOuter": 0.5}},
                   "y": {"field": "mean", "type": "quantitative", "title": "Fold change", "scale": {"domain": [0, 1.5], "nice": false}, "axis": {"values": [0, 0.5, 1, 1.5], "format": ".1f"}},
                   "fill": {"field": "treatment", "type": "nominal", "scale": {"domain": ["Control", "0.5 µM", "5 µM", "10 µM"], "range": ["black", "#8a8a8a", "white", "#555555"]},
                     "legend": {"encode": {"symbols": {"update": {"stroke": {"value": "black"}, "strokeWidth": {"value": 1.5}, "fill": [
                       {"test": "datum.value === '10 µM'", "value": {"gradient": "linear", "x1": 0, "y1": 0, "x2": 1, "y2": 0, "stops": [{"offset": 0, "color": "black"}, {"offset": 0.14, "color": "black"}, {"offset": 0.14, "color": "white"}, {"offset": 0.28, "color": "white"}, {"offset": 0.28, "color": "black"}, {"offset": 0.42, "color": "black"}, {"offset": 0.42, "color": "white"}, {"offset": 0.58, "color": "white"}, {"offset": 0.58, "color": "black"}, {"offset": 0.72, "color": "black"}, {"offset": 0.72, "color": "white"}, {"offset": 0.86, "color": "white"}, {"offset": 0.86, "color": "black"}, {"offset": 1, "color": "black"}]}},
                       {"test": "datum.value === 'Control'", "value": "black"},
                       {"test": "datum.value === '0.5 µM'", "value": "#8a8a8a"},
                       {"value": "white"}]}}}}}
                 }},
                {"data": {"name": "bars"}, "transform": [{"filter": "datum.panel === 'F' && datum.treatment === '10 µM'"}],
                 "mark": {"type": "bar", "stroke": "black", "strokeWidth": 2, "fill": {"gradient": "linear", "x1": 0, "y1": 1, "x2": 0.4, "y2": -0.2, "stops": [{"offset": 0, "color": "black"}, {"offset": 0.0455, "color": "black"}, {"offset": 0.0455, "color": "white"}, {"offset": 0.0909, "color": "white"}, {"offset": 0.0909, "color": "black"}, {"offset": 0.1364, "color": "black"}, {"offset": 0.1364, "color": "white"}, {"offset": 0.1818, "color": "white"}, {"offset": 0.1818, "color": "black"}, {"offset": 0.2273, "color": "black"}, {"offset": 0.2273, "color": "white"}, {"offset": 0.2727, "color": "white"}, {"offset": 0.2727, "color": "black"}, {"offset": 0.3182, "color": "black"}, {"offset": 0.3182, "color": "white"}, {"offset": 0.3636, "color": "white"}, {"offset": 0.3636, "color": "black"}, {"offset": 0.4091, "color": "black"}, {"offset": 0.4091, "color": "white"}, {"offset": 0.4545, "color": "white"}, {"offset": 0.4545, "color": "black"}, {"offset": 0.5, "color": "black"}, {"offset": 0.5, "color": "white"}, {"offset": 0.5455, "color": "white"}, {"offset": 0.5455, "color": "black"}, {"offset": 0.5909, "color": "black"}, {"offset": 0.5909, "color": "white"}, {"offset": 0.6364, "color": "white"}, {"offset": 0.6364, "color": "black"}, {"offset": 0.6818, "color": "black"}, {"offset": 0.6818, "color": "white"}, {"offset": 0.7273, "color": "white"}, {"offset": 0.7273, "color": "black"}, {"offset": 0.7727, "color": "black"}, {"offset": 0.7727, "color": "white"}, {"offset": 0.8182, "color": "white"}, {"offset": 0.8182, "color": "black"}, {"offset": 0.8636, "color": "black"}, {"offset": 0.8636, "color": "white"}, {"offset": 0.9091, "color": "white"}, {"offset": 0.9091, "color": "black"}, {"offset": 0.9545, "color": "black"}, {"offset": 0.9545, "color": "white"}, {"offset": 1, "color": "white"}]}},
                 "encoding": {
                   "x": {"field": "time", "type": "nominal", "title": null},
                   "xOffset": {"field": "treatment", "type": "nominal"},
                   "y": {"field": "mean", "type": "quantitative", "title": "Fold change", "axis": {"values": [0, 0.5, 1, 1.5], "format": ".1f"}}
                 }},
                {"data": {"name": "bars"}, "transform": [{"filter": "datum.panel === 'F' && datum.upper != null"}],
                 "mark": {"type": "rule", "color": "black", "strokeWidth": 1.5},
                 "encoding": {
                   "x": {"field": "time", "type": "nominal", "title": null},
                   "xOffset": {"field": "treatment", "type": "nominal"},
                   "y": {"field": "mean", "type": "quantitative", "title": "Fold change", "axis": {"values": [0, 0.5, 1, 1.5], "format": ".1f"}},
                   "y2": {"field": "upper"}
                 }},
                {"data": {"name": "bars"}, "transform": [{"filter": "datum.panel === 'F' && datum.upper != null"}],
                 "mark": {"type": "tick", "color": "black", "thickness": 1.5, "size": 8},
                 "encoding": {
                   "x": {"field": "time", "type": "nominal", "title": null},
                   "xOffset": {"field": "treatment", "type": "nominal"},
                   "y": {"field": "upper", "type": "quantitative", "title": "Fold change", "axis": {"values": [0, 0.5, 1, 1.5], "format": ".1f"}}
                 }}
              ]
            }
          ]
        }
      ],
      "spacing": 31,
      "resolve": {"scale": {"fill": "independent", "xOffset": "independent"}, "legend": {"fill": "independent"}}
    }
  ],
  "spacing": 20,
  "resolve": {"scale": {"fill": "independent", "xOffset": "independent"}, "legend": {"fill": "independent"}}
}
